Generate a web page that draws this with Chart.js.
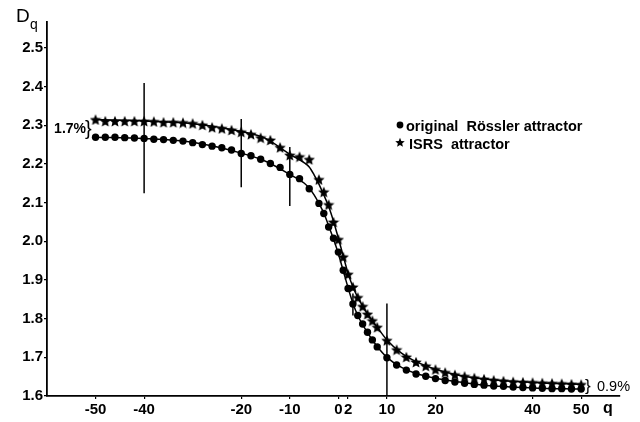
<!DOCTYPE html>
<html>
<head>
<meta charset="utf-8">
<script src="https://cdn.jsdelivr.net/npm/chart.js@4.4.0/dist/chart.umd.min.js"></script>
<style>
  html, body { margin: 0; padding: 0; background: #fff; }
  #wrap { width: 640px; height: 422px; position: relative; }
</style>
</head>
<body>
<div id="wrap"><canvas id="dqChart"></canvas></div>
<script>
// q values of the measured points
const qPoints = [-50, -48, -46, -44, -42, -40, -38, -36, -34, -32, -30, -28, -26, -24, -22, -20,
  -18, -16, -14, -12, -10, -8, -6, -4, -3, -2, -1, 0, 1, 2, 3, 4, 5, 6, 7, 8,
  10, 12, 14, 16, 18, 20, 22, 24, 26, 28, 30, 32, 34, 36, 38, 40, 42, 44, 46, 48, 50];

// D_q, original Rössler attractor (dots)
const dRossler = [2.269, 2.269, 2.269, 2.268, 2.267, 2.266, 2.264, 2.263, 2.261, 2.259, 2.255, 2.250, 2.246, 2.242, 2.236, 2.227,
  2.221, 2.212, 2.201, 2.191, 2.173, 2.162, 2.136, 2.098, 2.072, 2.037, 2.008, 1.972, 1.925, 1.878, 1.838, 1.808, 1.786, 1.765, 1.745, 1.727,
  1.699, 1.680, 1.667, 1.657, 1.651, 1.645, 1.640, 1.636, 1.633, 1.630, 1.628, 1.626, 1.625, 1.623, 1.622, 1.621, 1.620, 1.619, 1.619, 1.618, 1.618];

// D_q, ISRS attractor (stars)
const dIsrs = [2.315, 2.311, 2.311, 2.311, 2.311, 2.311, 2.310, 2.308, 2.308, 2.307, 2.305, 2.301, 2.295, 2.292, 2.288, 2.283,
  2.277, 2.268, 2.262, 2.243, 2.223, 2.219, 2.212, 2.160, 2.128, 2.095, 2.050, 2.005, 1.960, 1.915, 1.882, 1.855, 1.832, 1.812, 1.795, 1.778,
  1.744, 1.720, 1.701, 1.688, 1.678, 1.669, 1.661, 1.655, 1.651, 1.647, 1.644, 1.641, 1.639, 1.637, 1.636, 1.635, 1.634, 1.633, 1.632, 1.631, 1.630];

// smooth curves drawn through the points
const qFit = [-50, -40, -30, -20, -15, -10, -7, -6, -5, -4, -3, -2, -1, 0, 1, 2, 3, 4, 6, 8, 10, 13, 16, 20, 25, 30, 40, 50];
const fitRossler = [2.269, 2.266, 2.256, 2.228, 2.207, 2.173, 2.150, 2.137, 2.120, 2.098, 2.073, 2.040, 2.006, 1.968, 1.924, 1.880, 1.840, 1.808, 1.764, 1.728, 1.700, 1.674, 1.658, 1.646, 1.636, 1.628, 1.621, 1.618];
const fitIsrs = [2.315, 2.311, 2.304, 2.284, 2.266, 2.225, 2.203, 2.192, 2.172, 2.148, 2.120, 2.090, 2.052, 2.008, 1.962, 1.917, 1.882, 1.855, 1.812, 1.778, 1.745, 1.711, 1.689, 1.669, 1.653, 1.644, 1.635, 1.630];

// error bars
const errQ = [-40, -20, -10, 3, 10];
const errLow = [2.124, 2.140, 2.091, 1.808, 1.560];
const errHigh = [2.409, 2.316, 2.244, 1.865, 1.839];

const xTicks = [-50, -40, -20, -10, 0, 2, 10, 20, 40, 50];
const yTicks = [1.6, 1.7, 1.8, 1.9, 2.0, 2.1, 2.2, 2.3, 2.4, 2.5];

const FONT = '"Liberation Sans", Arial, Helvetica, sans-serif';

// petite étoile pleine pour les points ISRS
function makeStar(size) {
    const c = document.createElement('canvas');
    c.width = c.height = size;
    const g = c.getContext('2d');
    const r = size / 2, ri = r * 0.45;
    g.beginPath();
    for (let i = 0; i < 10; i++) {
        const a = -Math.PI / 2 + i * Math.PI / 5;
        const rr = i % 2 ? ri : r;
        g.lineTo(r + rr * Math.cos(a), r + 0.7 + rr * Math.sin(a));
    }
    g.closePath();
    g.fillStyle = '#000';
    g.fill();
    return c;
}
const starImg = makeStar(12);

const toXY = (xs, ys) => xs.map((q, i) => ({ x: q, y: ys[i] }));

const decorations = {
    id: 'decorations',
    afterDatasetsDraw(chart) {
        const { ctx, chartArea, scales: { x, y } } = chart;
        ctx.save();
        ctx.strokeStyle = '#000';
        ctx.lineWidth = 1.5;
        errQ.forEach((q, i) => {
            const px = x.getPixelForValue(q);
            ctx.beginPath();
            ctx.moveTo(px, y.getPixelForValue(errHigh[i]));
            ctx.lineTo(px, Math.min(y.getPixelForValue(errLow[i]), chartArea.bottom));
            ctx.stroke();
        });

        ctx.fillStyle = '#000';
        ctx.textBaseline = 'alphabetic';

        // D_q axis title
        ctx.font = '19px ' + FONT;
        ctx.textAlign = 'left';
        ctx.fillText('D', 16, 22);
        ctx.font = '14px ' + FONT;
        ctx.fillText('q', 30, 29);

        // q axis title
        ctx.font = 'bold 16px ' + FONT;
        ctx.fillText('q', 603, 413);

        // percentages with braces
        ctx.font = 'bold 14px ' + FONT;
        ctx.textAlign = 'right';
        ctx.fillText('1.7%', 86, 133);
        ctx.textAlign = 'left';
        ctx.font = '14.5px ' + FONT;
        ctx.fillText('0.9%', 597, 391);
        ctx.font = '20px ' + FONT;
        ctx.fillText('}', 85, 135);
        ctx.font = '17px ' + FONT;
        ctx.fillText('}', 585, 391);

        // legend
        const labels = chart.data.datasets.filter(d => d.legendMark);
        labels.forEach((d, i) => {
            const ly = 126 + i * 18;
            if (d.legendMark === 'circle') {
                ctx.beginPath();
                ctx.arc(400, ly - 1, 3.4, 0, Math.PI * 2);
                ctx.fill();
                ctx.font = 'bold 14.5px ' + FONT;
                ctx.fillText(d.label, 406, ly + 5);
            } else {
                ctx.drawImage(makeStar(10), 395, ly - 7);
                ctx.font = 'bold 14.5px ' + FONT;
                ctx.fillText(d.label, 409, ly + 5);
            }
        });
        ctx.restore();
    }
};

new Chart(document.getElementById('dqChart'), {
    type: 'scatter',
    data: {
        datasets: [
            {
                label: 'fit Rössler',
                data: toXY(qFit, fitRossler),
                showLine: true,
                pointRadius: 0,
                borderColor: '#000',
                borderWidth: 1.5,
                cubicInterpolationMode: 'monotone'
            },
            {
                label: 'fit ISRS',
                data: toXY(qFit, fitIsrs),
                showLine: true,
                pointRadius: 0,
                borderColor: '#000',
                borderWidth: 1.5,
                cubicInterpolationMode: 'monotone'
            },
            {
                label: 'original  Rössler attractor',
                legendMark: 'circle',
                data: toXY(qPoints, dRossler),
                pointStyle: 'circle',
                pointRadius: 3.7,
                backgroundColor: '#000',
                borderColor: '#000',
                borderWidth: 0
            },
            {
                label: 'ISRS  attractor',
                legendMark: 'star',
                data: toXY(qPoints, dIsrs),
                pointStyle: starImg,
                backgroundColor: '#000',
                borderColor: '#000'
            }
        ]
    },
    options: {
        responsive: true,
        maintainAspectRatio: false,
        animation: false,
        layout: { padding: { top: 22, right: 20, left: 0, bottom: 0 } },
        plugins: {
            legend: { display: false },
            tooltip: { enabled: false }
        },
        scales: {
            x: {
                type: 'linear',
                min: -60,
                max: 58,
                afterBuildTicks: (s) => { s.ticks = xTicks.map(v => ({ value: v })); },
                afterFit: (s) => { s.height = 26; },
                grid: { display: true, drawOnChartArea: false, drawTicks: true, tickLength: 3, color: '#000', lineWidth: 1.2 },
                border: { display: true, color: '#000', width: 1.8 },
                ticks: {
                    autoSkip: false,
                    maxRotation: 0,
                    padding: 2,
                    color: '#000',
                    font: { family: FONT, size: 15, weight: 'bold' }
                }
            },
            y: {
                type: 'linear',
                min: 1.6,
                max: 2.567,
                afterBuildTicks: (s) => { s.ticks = yTicks.map(v => ({ value: v })); },
                afterFit: (s) => { s.width = 47; },
                grid: { display: true, drawOnChartArea: false, drawTicks: true, tickLength: 3, color: '#000', lineWidth: 1.2 },
                border: { display: true, color: '#000', width: 1.8 },
                ticks: {
                    padding: 1,
                    color: '#000',
                    font: { family: FONT, size: 15, weight: 'bold' },
                    callback: (v) => Number(v).toFixed(1)
                }
            }
        }
    },
    plugins: [decorations]
});
</script>
</body>
</html>
